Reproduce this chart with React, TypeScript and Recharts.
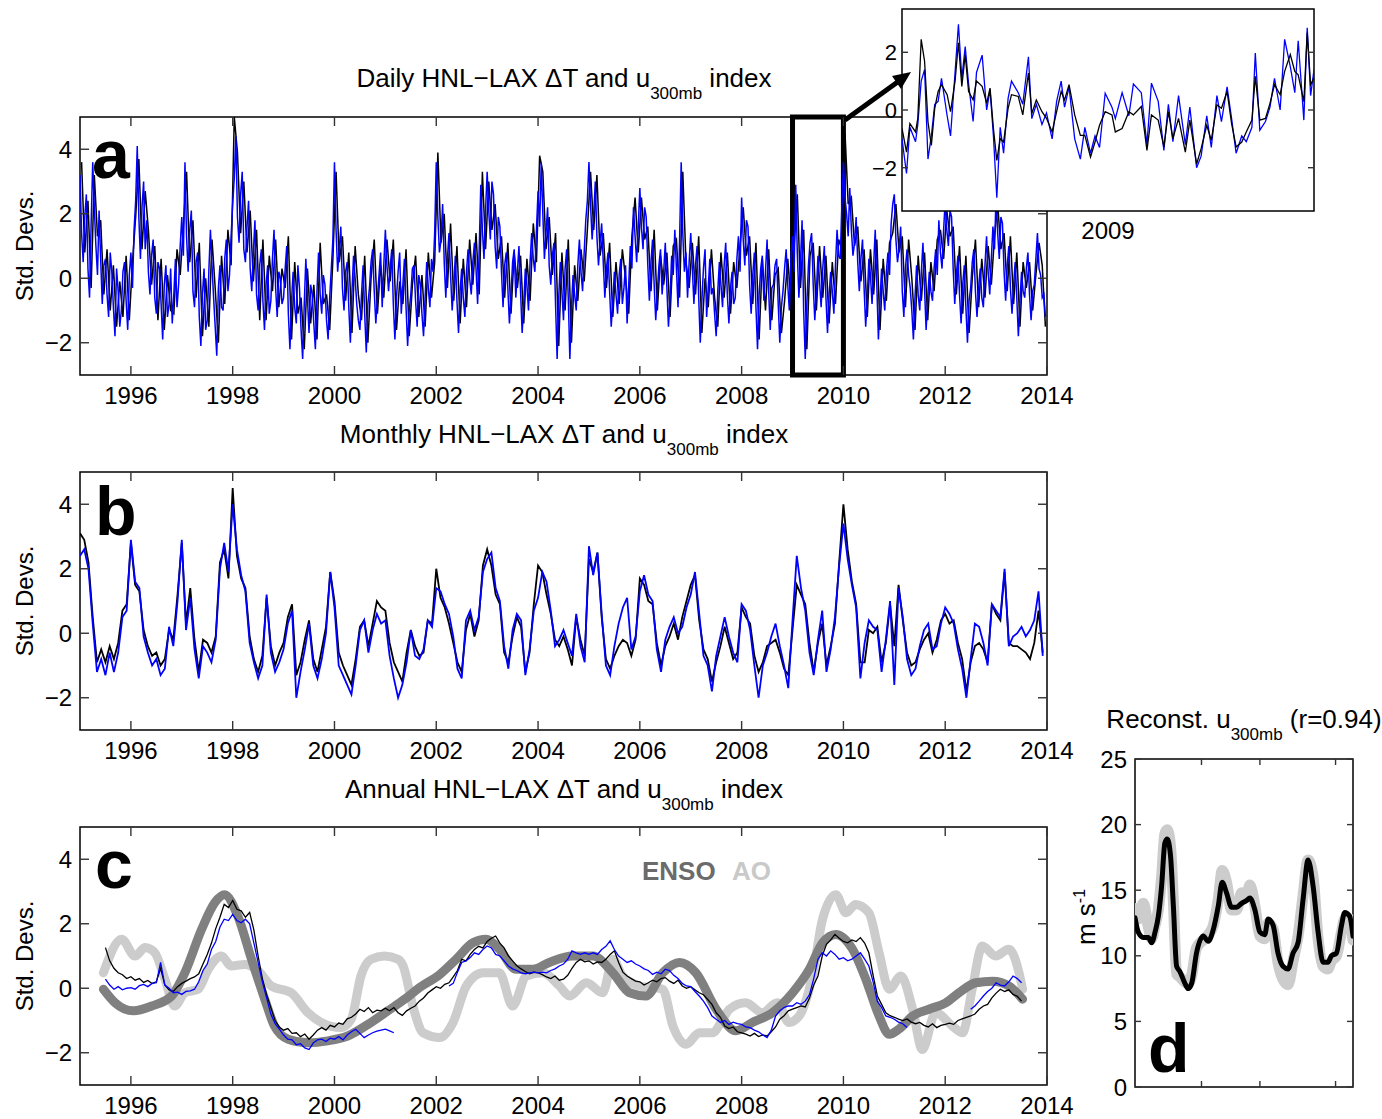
import { LineChart, Line, XAxis, YAxis, ReferenceArea } from 'recharts'

const FONT = "'Liberation Sans', Arial, Helvetica, sans-serif"

// panel a: daily index. blue: 32 samples per year from 1995.0, black: 16 per year
const dailyBlue = [
  3.2, 1.4, 0.5, 1.9, 2.6, 0.3, -0.6, 1.7, 3.6, 2.2, 1.0, 0.1, 2.1, 0.6, -0.8, 0.4, 0.6, -0.5, -1.2, 0.8, 0.2, -0.9, -1.8, 0.3, -0.4, -1.5, -1.0, 0.2, 0.5, -0.7, -1.6, 0.1,
  0.8, -0.3, 1.5, 2.4, 4.1, 1.9, 0.6, 2.2, 3.0, 0.9, 1.8, 0.2, -0.5, 0.7, 1.2, -0.6, -1.1, 0.5, 0.3, -0.8, -1.9, -0.2, 0.4, -1.2, -0.8, 0.3, -1.4, -0.5, 0.6, -0.9, -0.2, 1.0,
  1.9, 0.7, 3.6, 1.3, 0.2, 1.5, 2.1, -0.4, -0.9, 0.5, 0.8, -1.2, -2.1, -0.5, 0.3, -1.6, -1.3, 0.2, 1.5, 0.4, -0.6, -1.5, -2.4, -0.3, 0.4, -0.9, -1.0, 0.6, 1.2, -0.4, 0.1, 1.3,
  2.3, 3.1, 4.4, 1.9, 1.1, 2.6, 3.3, 0.9, 0.5, 1.6, 2.4, 0.3, -0.4, 0.8, 1.8, -0.5, -1.0, 0.4, 0.9, -0.7, -1.6, -0.2, 0.4, -1.1, -0.7, 0.6, 1.5, -0.3, -1.2, 0.2, 0.0, -0.8,
  -0.6, 0.3, 1.0, -1.1, -2.2, -0.7, 0.2, -0.9, -1.4, 0.4, -0.3, -1.6, -2.5, -0.8, 0.6, -0.6, -1.7, -0.2, -0.5, -1.4, -2.2, -0.4, 0.8, -0.5, -1.1, 0.1, -0.2, -1.3, -1.9, -0.6, 0.3, 1.2,
  3.6, 1.5, 0.2, 0.9, 1.6, -0.3, -1.0, 0.2, 0.5, -0.9, -2.0, -0.4, 0.7, 0.0, -0.8, -1.3, -1.6, -0.5, 0.4, -1.1, -2.3, -0.8, -0.3, 0.5, 0.9, -0.4, -1.4, -0.6, 0.1, 0.8, -0.9, 0.4,
  1.5, 0.4, -0.4, 0.3, 0.9, -0.8, -1.9, -0.6, 0.2, 0.8, -1.1, -0.2, 0.6, -0.9, -2.1, -1.0, -0.5, 0.3, 0.4, -0.7, -1.5, 0.1, -0.2, -1.1, -1.8, -0.6, 0.5, -0.3, -0.9, 0.6, 0.2, 1.4,
  3.6, 1.9, 0.8, 1.2, 2.3, 0.5, -0.6, 0.6, 1.4, 0.1, -1.0, -0.2, 0.7, -0.7, -1.7, -0.4, 0.3, -0.6, -1.2, 0.2, 0.9, 0.0, -0.5, 0.5, 1.1, 0.3, -0.8, 0.9, 2.9, 1.5, 0.6, 2.1,
  3.3, 2.1, 1.2, 3.0, 2.6, 1.0, 0.3, 1.9, 1.6, 0.2, -0.9, 0.4, 0.8, -0.3, -1.4, -0.5, 0.5, 0.9, -0.6, 0.2, 1.0, -0.4, -1.7, -0.8, 0.3, -0.2, -1.0, 0.5, 1.4, 0.6, 0.2, 1.5,
  2.7, 1.6, 3.6, 2.0, 0.6, 1.4, 2.2, 0.4, -0.2, 0.7, 1.1, -0.8, -2.5, -0.6, 0.5, -0.4, -1.3, 0.3, 0.9, -0.6, -2.5, -0.9, 0.1, -0.5, -1.0, 0.4, 1.2, 0.2, -0.4, 0.8, 1.8, 2.4,
  3.6, 2.3, 1.2, 2.0, 3.0, 1.3, 0.4, 1.1, 1.7, 0.5, -0.6, 0.3, 0.8, -0.4, -1.5, -0.7, 0.2, -0.5, -1.1, 0.1, 0.6, -0.8, -0.3, 0.4, -1.4, -0.2, 1.0, 0.3, 2.2, 1.3, 0.5, 1.6,
  2.8, 1.6, 0.9, 2.2, 1.9, 0.4, -0.7, 0.5, 1.2, -0.2, -1.3, -0.4, 0.4, 0.9, -0.5, 0.2, 1.1, -0.3, -1.5, -0.6, 0.7, 0.1, 1.5, 0.3, -0.9, 1.2, 3.6, 1.4, 0.2, 0.8, -0.6, 0.5,
  1.4, 0.3, -0.8, 0.4, 1.0, -0.6, -2.0, -0.7, 0.3, 0.9, -1.2, -0.3, 0.6, -0.5, -0.3, -1.1, -1.8, -0.4, 0.5, -0.2, -0.9, 0.4, 1.1, -0.5, -1.4, -0.3, 0.2, -0.8, -0.6, 0.6, 1.3, 0.2,
  2.5, 1.2, 0.4, 1.8, 1.6, -0.2, -1.1, 0.1, 0.8, -0.9, -2.2, -0.5, 0.3, 0.7, -0.7, 0.2, 1.2, -0.4, -1.6, -0.3, -0.2, 0.4, 0.6, -0.8, -2.0, -0.9, -0.4, 0.3, 0.9, -0.2, -1.0, 0.6,
  1.3, 0.2, 2.9, 0.8, -0.6, 0.5, 1.8, -1.0, -2.5, -0.8, 0.4, 1.1, 1.4, -0.2, -1.3, -0.4, 0.7, -0.1, -0.9, 0.3, 1.0, -0.6, -1.7, -0.5, 0.2, -0.4, -1.1, 0.4, 1.5, 0.7, 0.6, 2.2,
  3.6, 2.5, 2.0, 1.3, 2.8, 1.5, 0.7, 1.1, 1.9, 0.5, -0.4, 0.6, 1.2, -0.3, -1.5, -0.6, 0.6, 0.1, -0.8, 0.4, 1.5, -0.2, -1.9, -0.7, 0.3, -0.4, -1.0, 0.2, 0.8, 0.1, 1.7, 2.3,
  2.6, 1.2, 0.5, 0.9, 1.6, -0.4, -1.2, 0.3, 0.9, 0.1, -0.3, -1.0, -1.9, -0.6, 0.4, -0.5, -1.0, 0.2, 1.1, -0.3, -1.6, -0.6, 0.2, -0.4, -0.7, 0.3, 0.9, 0.1, 1.8, 0.8, 0.3, 1.5,
  2.4, 1.5, 1.0, 2.1, 1.9, 0.3, -0.8, 0.1, 0.7, -0.5, -1.4, -0.2, 0.4, -0.9, -2.0, -0.7, -0.3, 0.5, 0.9, -0.4, -1.2, -0.3, 0.3, -0.6, -0.9, 0.4, 1.3, 0.2, -0.5, 0.6, 1.6, 0.9,
  2.6, 1.4, 0.6, 1.9, 1.7, 0.2, -0.7, 0.4, 1.0, -0.3, -1.1, -0.2, 0.5, -0.6, -1.8, -0.7, 0.2, -0.4, -0.6, 0.3, 0.8, -0.5, -1.3, -0.4, -0.2, 0.6, 1.4, 0.3, 0.1, -0.6, -0.5, -1.2,
]
const dailyBlack = [
  3.6, 0.8, 2.4, -0.3, 3.2, 1.3, 1.8, -0.5, 0.9, -1.0, 0.4, -1.5, -0.1, -1.2, 0.7, -1.3,
  0.5, 1.9, 3.7, 0.9, 2.7, 1.5, -0.2, 1.0, -1.3, 0.6, -1.6, 0.1, -1.0, -1.1, 0.9, 0.1,
  1.6, 3.3, 0.5, 1.8, -0.6, 1.1, -1.8, 0.0, -1.5, 1.2, -0.3, -2.0, 0.7, -0.8, 1.5, 0.4,
  5.0, 3.9, 1.4, 3.0, 0.8, 2.1, -0.1, 1.5, -1.3, 1.2, -1.3, 0.7, -0.4, 1.2, -0.9, 0.3,
  -0.3, 1.3, -1.9, 0.5, -1.1, -0.6, -2.2, 0.3, -1.4, -0.2, -1.9, 1.1, -0.8, -0.5, -1.6, 0.6,
  3.3, 0.5, 1.3, -0.7, 0.8, -1.7, 1.0, -0.5, -1.3, 0.7, -2.0, 0.0, 1.2, -1.1, 0.4, -0.6,
  1.2, -0.1, 1.2, -1.6, -0.1, -0.8, 0.9, -1.8, -0.2, 0.7, -1.2, 0.1, -1.5, 0.8, -0.6, 0.5,
  3.9, 1.1, 2.0, -0.3, 1.7, -0.7, 1.0, -1.4, 0.6, -0.9, 1.2, -0.2, 1.4, -0.5, 3.3, 0.9,
  3.0, 1.5, 2.3, 0.6, 1.3, -0.6, 1.1, -1.1, 0.8, -0.3, 0.7, -1.4, 0.6, -0.7, 1.7, 0.5,
  3.8, 3.3, 0.9, 1.9, 0.1, 1.4, -2.1, 0.8, -1.0, 1.2, -2.0, 0.4, -0.7, 0.9, -0.1, 1.5,
  3.3, 1.5, 3.2, 0.7, 1.4, -0.3, 1.1, -1.2, 0.5, -0.8, 0.9, 0.0, -1.1, 1.3, 2.5, 0.8,
  2.5, 1.2, 1.6, -0.4, 1.5, -1.0, 0.7, -0.2, 0.8, -1.2, 1.0, 1.2, -0.6, 3.3, 0.5, -0.3,
  1.1, -0.5, 1.3, -1.7, 0.0, -0.9, 0.9, -0.6, -1.5, 0.8, -0.6, 0.8, -1.1, 0.5, -0.3, 1.0,
  2.2, 0.7, 1.3, -0.8, 1.1, -1.9, 0.6, -1.0, 0.9, -1.3, 0.1, 0.3, -1.7, -0.7, 0.6, -0.7,
  1.0, 2.6, -0.3, 1.5, -2.2, 0.7, 1.1, -1.0, 1.0, -0.6, 0.7, -1.4, 0.5, -0.8, 1.2, 0.9,
  4.5, 2.3, 2.5, 1.0, 1.6, -0.1, 0.9, -1.2, 0.9, -0.5, 1.2, -1.6, 0.6, -0.7, 1.1, 1.4,
  2.3, 0.8, 1.3, -0.9, 1.2, 0.0, -1.6, 0.7, -0.7, 0.8, -1.3, 0.5, -0.4, 1.2, 1.5, 0.6,
  2.1, 1.3, 1.6, -0.5, 1.0, -1.1, 0.7, -1.7, 0.0, 1.2, -0.9, 0.6, -0.6, 1.0, -0.2, 1.3,
  2.3, 0.9, 1.4, -0.4, 1.3, -0.8, 0.8, -1.5, 0.5, -0.3, 0.5, -1.0, 0.1, 1.1, 0.4, -1.5,
]

// panel b: monthly index, Jan 1995 – Dec 2013
const monthlyBlack = [
  3.1, 2.9, 2.2, 0.5, -0.9, -0.5, -0.9, -0.4, -0.8, -0.3, 0.7, 0.9,
  2.8, 1.5, 1.3, 0.1, -0.4, -0.7, -0.6, -1.0, -0.8, 0.1, -0.2, 1.2,
  2.8, 0.3, 1.4, -0.2, -1.2, -0.2, -0.3, -0.6, -0.1, 2.2, 2.6, 1.7,
  4.5, 2.4, 1.7, 1.4, -0.1, -0.8, -1.2, -0.7, 1.1, -0.4, -1.0, -0.6,
  -0.3, 0.5, 0.9, -1.3, -0.9, -0.2, 0.4, -0.8, -1.2, -0.5, 0.2, 1.9,
  1.0, -0.6, -1.0, -1.3, -1.6, -0.8, 0.2, 0.4, -0.4, 0.3, 1.0, 0.8,
  0.7, -0.3, -0.9, -1.2, -1.5, -0.6, 0.1, -0.4, -0.7, -0.6, 0.4, 0.3,
  2.0, 1.1, 0.8, 0.3, -0.3, -0.9, -1.2, 0.1, 0.6, -0.1, 0.4, 2.1,
  2.6, 2.1, 1.2, 0.9, -0.6, -0.9, -0.1, 0.5, 0.2, -1.2, -0.6, 0.9,
  2.1, 1.9, 1.2, 0.6, -0.2, -0.4, -0.1, -0.5, -1.0, 0.5, -0.2, -0.7,
  2.3, 1.9, 2.5, 0.5, -0.8, -1.1, -0.7, -0.4, -0.2, -0.3, -0.7, -0.2,
  1.7, 1.5, 1.0, 0.9, -0.3, -1.0, -0.4, -0.1, 0.3, -0.2, 0.5, 1.0,
  1.5, 1.8, 0.4, -0.5, -0.8, -1.5, -0.9, -0.4, 0.2, -0.3, -0.8, -0.6,
  0.8, 0.5, 0.3, -0.7, -1.2, -0.9, -0.4, -0.3, -0.2, -0.6, -1.1, -1.3,
  0.1, 1.5, 1.2, 0.9, -0.3, -1.2, -0.3, 0.3, -1.0, -0.4, 0.3, 2.2,
  4.0, 2.6, 1.6, 0.9, -0.9, -0.9, 0.1, 0.0, 0.2, -0.9, -0.3, 0.9,
  -0.4, 1.5, 0.4, -0.6, -1.0, -0.9, -0.5, -0.2, 0.0, -0.6, -0.2, 0.4,
  0.6, 0.3, 0.4, -0.3, -0.8, -1.8, -0.9, -0.4, -0.3, -0.5, -0.9, 0.9,
  0.6, 0.4, 1.9, -0.3, -0.4, -0.4, -0.5, -0.6, -0.8, -0.3, 0.7, -0.6,
]
const monthlyBlue = [
  2.4, 2.6, 2.0, 0.3, -1.2, -0.8, -1.3, -0.6, -1.2, -0.6, 0.5, 0.7,
  2.9, 1.6, 1.4, -0.1, -0.6, -1.0, -0.8, -1.3, -1.1, 0.2, -0.4, 1.0,
  2.9, 0.1, 1.1, -0.5, -1.4, -0.4, -0.6, -0.9, -0.2, 2.0, 2.8, 1.9,
  4.0, 2.6, 1.8, 1.3, -0.3, -0.9, -1.4, -1.0, 1.2, -0.6, -1.2, -0.9,
  -0.5, 0.3, 0.7, -2.0, -1.2, -0.5, 0.3, -1.0, -1.4, -0.8, 0.0, 1.9,
  0.8, -1.0, -1.3, -1.6, -1.9, -1.0, 0.1, 0.4, -0.6, 0.1, 0.6, 0.3,
  0.4, -0.7, -1.4, -2.0, -1.6, -0.9, 0.1, -0.7, -0.8, -0.5, 0.4, 0.2,
  1.4, 1.3, 0.9, 0.6, -0.1, -1.1, -1.4, 0.4, 0.7, 0.1, 0.5, 1.9,
  2.3, 2.5, 1.4, 1.0, -0.4, -1.1, 0.1, 0.6, 0.4, -1.3, -0.5, 0.7,
  1.1, 1.9, 1.6, 0.7, -0.4, -0.2, 0.1, -0.3, -0.7, 0.6, -0.4, -0.9,
  2.7, 1.8, 2.5, 0.6, -1.0, -1.3, -0.4, 0.3, 0.8, 1.1, -0.5, -0.1,
  1.3, 1.8, 1.2, 1.0, -0.5, -1.2, -0.2, 0.2, 0.5, 0.0, 0.2, 0.8,
  1.2, 1.9, 0.6, -0.7, -1.0, -1.8, -0.7, -0.1, 0.5, -0.1, -0.6, -0.9,
  0.9, 0.7, 0.1, -1.0, -2.0, -1.0, -0.6, -0.1, 0.3, -0.4, -1.0, -1.7,
  0.4, 2.4, 1.4, 0.7, -0.6, -1.3, -0.2, 0.7, -1.2, -0.5, 0.5, 2.1,
  3.4, 2.3, 1.5, 0.8, -1.4, -0.3, 0.4, 0.2, 0.1, -1.2, -0.2, 1.0,
  -1.6, 1.4, 0.5, -0.8, -1.3, -1.1, -0.4, 0.1, 0.3, -0.5, -0.4, 0.3,
  0.8, 0.6, 0.3, -0.5, -1.1, -2.0, -0.8, 0.3, 0.2, -0.3, -1.0, 0.9,
  0.7, 0.5, 2.0, -0.4, -0.1, 0.0, 0.2, -0.1, 0.1, 0.4, 1.3, -0.7,
]

// panel c: annual running means, monthly steps from mid-1995 to mid-2013
const annualBlack = [
  1.26, 0.85, 0.62, 0.48, 0.42, 0.3,
  0.36, 0.25, 0.3, 0.18, 0.24, 0.15, 0.2, 0.62, 0.1, -0.05, -0.1, 0.05,
  0.15, 0.22, 0.3, 0.35, 0.45, 0.75, 1.05, 1.4, 1.85, 2.2, 2.6, 2.5,
  2.72, 2.45, 2.4, 2.2, 2.35, 1.8, 1.0, 0.3, -0.2, -0.6, -1.0, -1.2,
  -1.3, -1.25, -1.4, -1.38, -1.5, -1.42, -1.58, -1.45, -1.3, -1.22, -1.3, -1.15,
  -1.2, -1.08, -1.12, -0.95, -0.9, -0.8, -0.65, -0.72, -0.6, -0.76, -0.68, -0.7,
  -0.62, -0.7, -0.6, -0.76, -0.84, -0.7, -0.62, -0.55, -0.4, -0.3, -0.15, -0.05,
  0.05, 0.0, 0.12, 0.17, 0.35, 0.55, 0.9, 0.85, 1.05, 1.2, 1.3, 1.25,
  1.45, 1.55, 1.62, 1.4, 1.25, 1.0, 0.85, 0.7, 0.6, 0.52, 0.45, 0.5,
  0.48, 0.42, 0.35, 0.3, 0.38, 0.25, 0.28, 0.4, 0.62, 0.8, 0.9, 0.82,
  0.85, 0.75, 0.82, 0.8, 0.9, 1.05, 1.16, 0.8, 0.5, 0.38, 0.3, 0.22,
  0.2, 0.1, 0.17, 0.25, 0.2, 0.3, 0.33, 0.22, 0.15, 0.25, 0.07, 0.0,
  0.05, -0.05, -0.14, -0.2, -0.35, -0.5, -0.76, -0.9, -1.17, -1.25, -1.2, -1.35,
  -1.38, -1.42, -1.48, -1.4, -1.5, -1.45, -1.48, -1.35, -1.2, -0.96, -0.85, -0.7,
  -0.65, -0.6, -0.55, -0.58, -0.3, 0.1, 0.38, 1.0, 1.36, 1.5, 1.67, 1.55,
  1.45, 1.41, 1.5, 1.45, 1.57, 1.4, 1.1, 0.4, -0.24, -0.5, -0.76, -0.85,
  -0.9, -0.96, -1.0, -0.95, -1.05, -1.1, -1.06, -1.15, -1.2, -1.1, -1.22, -1.15,
  -1.12, -1.08, -1.12, -1.0, -0.95, -0.9, -0.86, -0.8, -0.65, -0.55, -0.5, -0.3,
  -0.15, -0.03, -0.1, -0.05, -0.19, -0.25, -0.4,
]
const annualBlue = [
  0.28, 0.1, -0.03, 0.05, -0.05, 0.0,
  0.02, -0.03, 0.08, 0.12, 0.05, 0.15, 0.17, 0.8, 0.1, 0.0, -0.14, -0.12,
  -0.19, -0.1, -0.08, -0.03, 0.2, 0.55, 0.75, 1.2, 1.45, 1.9, 2.14, 2.1,
  2.29, 2.1, 2.03, 2.14, 2.0, 1.4, 0.8, 0.2, -0.3, -0.8, -1.1, -1.27,
  -1.45, -1.58, -1.6, -1.75, -1.72, -1.85, -1.9, -1.7, -1.6, -1.58, -1.65, -1.55,
  -1.58, -1.5, -1.6, -1.45, -1.35, -1.27, -1.4, -1.53, -1.45, -1.38, -1.33, -1.3,
  -1.27, -1.32, -1.38, null, null, null, null, null, null, null, null, null,
  null, null, null, 0.07, 0.15, 0.5, 0.8, 0.85, 0.95, 1.1, 1.05, 1.2,
  1.31, 1.25, 1.05, 1.0, 0.85, 0.69, 0.6, 0.55, 0.48, 0.45, 0.48, 0.5,
  0.48, 0.5, 0.48, 0.55, 0.6, 0.69, 0.75, 0.9, 1.16, 1.1, 1.05, 1.1,
  1.05, 1.1, 1.05, 1.2, 1.3, 1.47, 1.2, 1.0, 0.9, 0.8, 0.85, 0.75,
  0.69, 0.6, 0.55, 0.43, 0.5, 0.45, 0.59, 0.55, 0.4, 0.3, 0.15, 0.07,
  0.05, -0.1, -0.24, -0.4, -0.6, -0.86, -0.96, -1.06, -1.0, -1.12, -1.05, -1.1,
  -1.12, -1.2, -1.22, -1.3, -1.35, -1.45, -1.53, -1.3, -0.86, -0.7, -0.6, -0.55,
  -0.55, -0.45, -0.5, -0.4, -0.2, 0.3, 0.9, 1.1, 1.0, 1.16, 1.05, 0.9,
  0.95, 0.85, 0.9, 1.0, 1.1, 0.9, 0.69, 0.2, -0.4, -0.6, -0.86, -0.9,
  -0.96, -1.05, -1.1, -1.22, null, null, null, null, null, null, null, null,
  null, null, null, null, null, null, -0.65, -0.55, -0.4, -0.24, -0.1, 0.0,
  0.17, 0.1, 0.07, 0.2, 0.38, 0.3, 0.17,
]
const ensoYears = [
  1995.46, 1995.69, 1996.05, 1996.41, 1996.8, 1997.06, 1997.39, 1997.65, 1997.84, 1998.1,
  1998.37, 1998.63, 1998.82, 1999.09, 1999.48, 1999.87, 2000.26, 2000.66, 2001.05, 2001.38,
  2001.67, 2002.07, 2002.39, 2002.72, 2002.98, 2003.24, 2003.57, 2003.9, 2004.22, 2004.68,
  2005.08, 2005.47, 2005.8, 2006.12, 2006.45, 2006.78, 2007.1, 2007.5, 2007.89, 2008.21,
  2008.6, 2009.0, 2009.33, 2009.59, 2009.85, 2010.18, 2010.44, 2010.7, 2010.9, 2011.09,
  2011.36, 2011.68, 2012.01, 2012.27, 2012.6, 2012.93, 2013.25, 2013.52,
]
const ensoIndex = [
  -0.03, -0.45, -0.7, -0.55, -0.24, 0.48, 1.83, 2.66, 2.9, 2.24,
  0.9, -0.34, -1.17, -1.58, -1.69, -1.63, -1.48, -1.12, -0.7, -0.34,
  0.02, 0.43, 0.9, 1.41, 1.52, 1.21, 0.59, 0.59, 0.8, 1.0,
  1.0, 0.48, -0.14, -0.24, 0.48, 0.8, 0.48, -0.65, -1.32, -1.06,
  -0.76, -0.14, 0.59, 1.41, 1.67, 1.21, 0.28, -0.86, -1.43, -1.27,
  -0.86, -0.65, -0.45, -0.14, 0.17, 0.22, 0.07, -0.34,
]
const aoYears = [
  1995.46, 1995.82, 1996.08, 1996.28, 1996.47, 1996.67, 1996.86, 1997.06, 1997.32, 1997.52,
  1997.78, 1997.97, 1998.24, 1998.5, 1998.76, 1999.15, 1999.48, 1999.74, 2000.13, 2000.33,
  2000.52, 2000.72, 2000.98, 2001.25, 2001.35, 2001.54, 2001.74, 2002.07, 2002.33, 2002.59,
  2002.92, 2003.24, 2003.5, 2003.77, 2004.09, 2004.42, 2004.62, 2004.95, 2005.27, 2005.47,
  2005.66, 2005.99, 2006.45, 2006.65, 2006.91, 2007.17, 2007.43, 2007.63, 2007.76, 2008.08,
  2008.41, 2008.7, 2008.93, 2009.13, 2009.39, 2009.59, 2009.85, 2010.05, 2010.24, 2010.5,
  2010.7, 2010.9, 2011.13, 2011.36, 2011.55, 2011.81, 2012.14, 2012.34, 2012.53, 2012.73,
  2012.99, 2013.25, 2013.45, 2013.52,
]
const aoIndex = [
  0.48, 1.52, 1.0, 1.26, 1.1, 0.28, -0.55, -0.14, -0.03, 0.59,
  1.0, 0.69, 0.74, 0.54, 0.07, -0.14, -0.76, -1.06, -1.22, -0.96,
  0.38, 0.9, 1.0, 0.9, 0.69, -0.55, -1.38, -1.53, -1.06, 0.07,
  0.48, 0.48, -0.55, 0.38, 0.48, 0.07, -0.24, 0.17, -0.14, 0.9,
  0.38, 0.07, -0.03, -1.17, -1.74, -1.38, -1.38, -0.96, -0.65, -0.45,
  -0.76, -0.45, -1.06, -0.86, 0.38, 2.14, 2.9, 2.34, 2.6, 2.34,
  1.1, -0.03, 0.38, -0.65, -1.9, -0.76, -1.17, -1.38, -0.03, 1.31,
  1.0, 1.21, 0.48, -0.03,
]

// panel d: reconstructed u300mb (m/s), position along the record in percent
const reconPos = [
  0, 1.5, 3.8, 6.1, 7.6, 9.2, 10.7, 12.2, 13.7, 14.8, 16.3, 17.6, 19.1, 20.6, 22.9, 24.4, 26.0,
  28.2, 31.3, 33.6, 35.9, 38.2, 40.0, 42.0, 44.3, 46.6, 48.9, 51.1, 52.7, 55.0, 57.3, 59.5, 61.1,
  63.4, 65.6, 67.9, 70.2, 72.5, 74.8, 77.1, 79.4, 81.7, 84.0, 86.3, 88.5, 90.1, 92.4, 94.7, 96.2,
  98.5, 100,
]
const reconObserved = [
  13.6, 12.8, 14.0, 12.2, 11.3, 12.3, 13.5, 16.0, 19.3, 19.6, 18.3, 14.2, 8.6, 8.4, 8.0, 7.9, 8.5,
  10.6, 11.2, 11.6, 12.3, 14.3, 16.5, 15.6, 13.5, 13.5, 14.8, 14.5, 15.4, 13.8, 11.5, 11.3, 12.5,
  12.0, 9.5, 8.2, 7.8, 9.6, 11.5, 14.6, 17.3, 16.0, 11.3, 9.2, 9.0, 9.6, 10.0, 11.8, 12.8,
  12.8, 11.2,
]
const reconModel = [
  12.9, 11.8, 11.4, 11.4, 11.0, 11.8, 13.0, 15.3, 18.6, 18.9, 17.6, 13.8, 9.2, 8.8, 7.9, 7.5, 7.9,
  10.2, 11.5, 11.1, 12.0, 13.8, 15.6, 14.8, 13.7, 13.7, 14.0, 14.2, 14.4, 13.5, 11.8, 11.6, 12.8,
  12.3, 10.2, 9.2, 9.0, 10.2, 11.0, 14.3, 17.3, 15.3, 11.8, 9.5, 9.5, 10.0, 10.2, 12.3, 13.3,
  13.0, 11.5,
]

// inset: daily values during 2009 (day of year)
const insetDay = [
  0, 4, 7, 12, 14, 17, 20, 23, 26, 29, 32, 35, 40, 43, 47, 50, 53, 56, 59, 63,
  66, 71, 75, 78, 81, 84, 87, 90, 94, 97, 103, 107, 112, 115, 119, 124, 128, 133, 137, 141,
  144, 148, 153, 158, 162, 167, 171, 175, 180, 186, 189, 195, 201, 205, 212, 217, 221, 227, 232, 236,
  240, 245, 251, 255, 261, 265, 270, 274, 279, 283, 288, 292, 296, 301, 305, 310, 313, 317, 322, 326,
  330, 335, 339, 344, 348, 351, 356, 359, 362, 365,
]
const insetBlack = [
  -0.64, -1.46, -0.47, -0.76, -0.29, 2.45, 1.69, -0.41, -1.23, 0.06, 0.64, 0.88, 0.53, -0.06, 1.0, 2.33, 0.82, 1.92, 0.64, 0.35,
  1.0, 0.82, 0.23, 0.76, -0.64, -1.75, -0.99, -1.11, 0.06, 0.53, 0.47, -0.17, 1.28, -0.12, 0.35, -0.06, -0.29, -0.76, -0.06, 0.64,
  0.35, 0.88, -0.17, -0.88, -0.88, -1.63, -1.11, -0.53, -0.06, -0.17, -0.76, -0.64, -0.06, -0.17, 0.12, -1.4, -0.17, -0.35, -1.28, -0.06,
  -0.99, -0.29, -1.46, -0.35, -1.87, -1.34, -0.53, -1.05, 0.18, 0.06, 0.64, -0.47, -1.28, -1.11, -0.76, -0.35, 1.17, -0.35, -0.29, 0.23,
  0.88, 0.53, 1.34, 1.92, 1.34, 1.22, 0.29, 2.68, 0.88, 1.11,
]
const insetBlue = [
  -1.0, -2.2, -0.6, -1.1, -0.5, 1.0, 1.4, -1.7, -0.9, 0.2, 0.3, 1.1, -0.2, -0.9, 1.3, 2.97, 1.1, 2.2, 0.9, -0.4,
  1.3, 1.9, 0.0, 0.7, -0.9, -3.04, -0.6, -1.5, 0.4, 1.0, 0.6, 0.2, 1.84, -0.3, 0.2, -0.5, -0.1, -1.0, 0.3, 1.0,
  0.1, 0.8, -1.0, -1.7, -0.6, -1.5, -0.9, -1.3, 0.58, 0.1, -0.3, 0.6, -0.2, 0.9, 0.6, -1.2, 0.93, 0.3, -1.4, 0.2,
  -1.1, 0.5, -1.2, 0.1, -2.0, -1.6, -0.2, -1.3, 0.5, -0.4, 0.8, -0.3, -1.5, -0.9, -1.1, -0.6, 1.97, -0.7, -0.4, 0.1,
  1.1, 0.0, 2.45, 1.5, 0.6, 2.4, -0.35, 2.85, 0.5, 1.4,
]

const yearTicks = [1996, 1998, 2000, 2002, 2004, 2006, 2008, 2010, 2012, 2014]
const stdTicks = [-2, 0, 2, 4]
const windTicks = [0, 5, 10, 15, 20, 25]
const reconTicks = [30.5, 57.3, 92]
const insetTicks = [-2, 0, 2]

const dailyRows = dailyBlue.map((v, i) => ({ t: 1995 + i / 32, blue: v }))
const dailyBlackRows = dailyBlack.map((v, i) => ({ t: 1995 + (i + 0.5) / 16, black: v }))
const monthlyRows = monthlyBlue.map((v, i) => ({ t: 1995 + i / 12, blue: v, black: monthlyBlack[i] }))
const annualRows = annualBlack.map((v, i) => ({ t: 1995.5 + i / 12, black: v, blue: annualBlue[i] }))
const ensoRows = ensoYears.map((t, i) => ({ t, v: ensoIndex[i] }))
const aoRows = aoYears.map((t, i) => ({ t, v: aoIndex[i] }))
const reconRows = reconPos.map((t, i) => ({ t, obs: reconObserved[i], model: reconModel[i] }))
const insetRows = insetDay.map((t, i) => ({ t, black: insetBlack[i], blue: insetBlue[i] }))

type Box = { left: number; top: number; width: number; height: number }
const TICK = '#333'

const fmt = (v: number) => (v < 0 ? '\u2212' + Math.abs(v) : String(v))

// ticks point inward on both opposite sides of the box, labels sit outside
function xTick(b: Box, len: number, label: boolean) {
  const bottom = b.top + b.height
  return (p: any) => (
    <g>
      <line x1={p.x} x2={p.x} y1={bottom} y2={bottom - len} stroke={TICK} strokeWidth={1.4} />
      <line x1={p.x} x2={p.x} y1={b.top} y2={b.top + len} stroke={TICK} strokeWidth={1.4} />
      {label && (
        <text x={p.x} y={bottom + 29} textAnchor="middle" fontSize={24} fontFamily={FONT} fill="#000">
          {p.payload.value}
        </text>
      )}
    </g>
  )
}

function yTick(b: Box, len: number, fs: number, gap: number) {
  const right = b.left + b.width
  return (p: any) => (
    <g>
      <line x1={b.left} x2={b.left + len} y1={p.y} y2={p.y} stroke={TICK} strokeWidth={1.4} />
      <line x1={right} x2={right - len} y1={p.y} y2={p.y} stroke={TICK} strokeWidth={1.4} />
      <text x={b.left - gap} y={p.y + fs * 0.36} textAnchor="end" fontSize={fs} fontFamily={FONT} fill="#000">
        {fmt(p.payload.value)}
      </text>
    </g>
  )
}

function stdAxes(b: Box) {
  return [
    <XAxis key="x" type="number" dataKey="t" domain={[1995, 2014]} ticks={yearTicks} interval={0}
      allowDataOverflow height={1} axisLine={false} tickLine={false} tickSize={0} tickMargin={0}
      tick={xTick(b, 9, true)} />,
    <YAxis key="y" type="number" domain={[-3, 5]} ticks={stdTicks} interval={0} allowDataOverflow
      width={1} axisLine={false} tickLine={false} tickSize={0} tickMargin={0} tick={yTick(b, 9, 24, 8)} />,
    <ReferenceArea key="f" x1={1995} x2={2014} y1={-3} y2={5} fill="none" stroke="#000" strokeWidth={1.5} />,
  ]
}

const boxStd: Box = { left: 80, top: 17, width: 967, height: 258 }
const stdMargin = { top: 17, left: 79, right: 335, bottom: 44 }
const boxD: Box = { left: 75, top: 69, width: 218, height: 328 }
const boxIn: Box = { left: 52, top: 9, width: 412, height: 202 }

const abs = (left: number, top: number): React.CSSProperties => ({ position: 'absolute', left, top })

function Title({ cx, top, pre, post }: { cx: number; top: number; pre: string; post: string }) {
  return (
    <div style={{ ...abs(cx - 300, top), width: 600, textAlign: 'center', fontSize: 26, lineHeight: '26px', whiteSpace: 'nowrap' }}>
      {pre}u<span style={{ fontSize: 17, verticalAlign: -12 }}>300mb</span>{post}
    </div>
  )
}

function VLabel({ cx, cy, size = 24, children }: { cx: number; cy: number; size?: number; children: React.ReactNode }) {
  return (
    <div style={{ ...abs(cx - 100, cy - 14), width: 200, height: 28, lineHeight: '28px', textAlign: 'center', fontSize: size, transform: 'rotate(-90deg)', whiteSpace: 'nowrap' }}>
      {children}
    </div>
  )
}

function Letter({ x, baseline, ch }: { x: number; baseline: number; ch: string }) {
  return (
    <div style={{ ...abs(x, baseline - 57.6), fontSize: 68, lineHeight: '68px', fontWeight: 'bold' }}>{ch}</div>
  )
}

export default function App() {
  return (
    <div style={{ position: 'absolute', left: 0, top: 0, width: 1382, height: 1119, background: '#fff', fontFamily: FONT, color: '#000', overflow: 'hidden' }}>
      <Title cx={564} top={65} pre="Daily HNL−LAX ΔT and " post=" index" />
      <Title cx={564} top={421} pre="Monthly HNL−LAX ΔT and " post=" index" />
      <Title cx={564} top={776} pre="Annual HNL−LAX ΔT and " post=" index" />

      {/* a: daily */}
      <div style={abs(0, 100)}>
        <LineChart width={1382} height={320} data={dailyRows} margin={stdMargin}>
          {stdAxes(boxStd)}
          <Line data={dailyBlackRows} type="linear" dataKey="black" stroke="#000" strokeWidth={1.5} dot={false} isAnimationActive={false} />
          <Line type="linear" dataKey="blue" stroke="#0000ff" strokeWidth={1.5} dot={false} isAnimationActive={false} />
          <ReferenceArea x1={2009} x2={2010} y1={-3} y2={5} fill="none" stroke="#000" strokeWidth={5} />
        </LineChart>
      </div>

      {/* b: monthly */}
      <div style={abs(0, 455)}>
        <LineChart width={1382} height={320} data={monthlyRows} margin={stdMargin}>
          {stdAxes(boxStd)}
          <Line type="linear" dataKey="black" stroke="#000" strokeWidth={1.8} dot={false} isAnimationActive={false} />
          <Line type="linear" dataKey="blue" stroke="#0000ff" strokeWidth={1.8} dot={false} isAnimationActive={false} />
        </LineChart>
      </div>

      {/* c: annual */}
      <div style={abs(0, 810)}>
        <LineChart width={1382} height={309} data={annualRows} margin={{ top: 17, left: 79, right: 335, bottom: 33 }}>
          {stdAxes(boxStd)}
          <Line data={aoRows} type="monotone" dataKey="v" stroke="#cccccc" strokeWidth={9} strokeLinecap="round" strokeLinejoin="round" dot={false} isAnimationActive={false} />
          <Line data={ensoRows} type="monotone" dataKey="v" stroke="#808080" strokeWidth={9} strokeLinecap="round" strokeLinejoin="round" dot={false} isAnimationActive={false} />
          <Line type="linear" dataKey="black" stroke="#000" strokeWidth={1.3} dot={false} isAnimationActive={false} />
          <Line type="linear" dataKey="blue" stroke="#0000ff" strokeWidth={1.3} dot={false} isAnimationActive={false} />
        </LineChart>
      </div>
      <div style={{ ...abs(642, 858), fontSize: 26, lineHeight: '26px', fontWeight: 'bold', color: '#6b6b6b' }}>ENSO</div>
      <div style={{ ...abs(732, 858), fontSize: 26, lineHeight: '26px', fontWeight: 'bold', color: '#c9c9c9' }}>AO</div>

      {/* d: reconstruction */}
      <div style={{ ...abs(1094, 706), width: 300, textAlign: 'center', fontSize: 26, lineHeight: '26px', whiteSpace: 'nowrap' }}>
        Reconst. u<span style={{ fontSize: 17, verticalAlign: -12 }}>300mb</span> (r=0.94)
      </div>
      <div style={abs(1060, 690)}>
        <LineChart width={322} height={429} data={reconRows} margin={{ top: 69, left: 74, right: 29, bottom: 31 }}>
          <XAxis type="number" dataKey="t" domain={[0, 100]} ticks={reconTicks} interval={0} allowDataOverflow
            height={1} axisLine={false} tickLine={false} tickSize={0} tickMargin={0} tick={xTick(boxD, 6, false)} />
          <YAxis type="number" domain={[0, 25]} ticks={windTicks} interval={0} allowDataOverflow width={1}
            axisLine={false} tickLine={false} tickSize={0} tickMargin={0} tick={yTick(boxD, 6, 24, 8)} />
          <ReferenceArea x1={0} x2={100} y1={0} y2={25} fill="none" stroke="#000" strokeWidth={1.5} />
          <Line type="monotone" dataKey="obs" stroke="#cccccc" strokeWidth={11} strokeLinecap="round" strokeLinejoin="round" dot={false} isAnimationActive={false} />
          <Line type="monotone" dataKey="model" stroke="#000" strokeWidth={5} strokeLinecap="round" strokeLinejoin="round" dot={false} isAnimationActive={false} />
        </LineChart>
      </div>
      <VLabel cx={1080} cy={917} size={26}>
        m s<span style={{ fontSize: 16, verticalAlign: 10 }}>-1</span>
      </VLabel>

      {/* inset: 2009 zoom */}
      <div style={{ ...abs(902, 9), width: 412, height: 202, background: '#fff' }} />
      <div style={abs(850, 0)}>
        <LineChart width={480} height={250} data={insetRows} margin={{ top: 9, left: 51, right: 16, bottom: 38 }}>
          <XAxis type="number" dataKey="t" domain={[0, 365]} allowDataOverflow height={1} axisLine={false} tick={false} tickLine={false} />
          <YAxis type="number" domain={[-3.5, 3.5]} ticks={insetTicks} interval={0} allowDataOverflow width={1}
            axisLine={false} tickLine={false} tickSize={0} tickMargin={0} tick={yTick(boxIn, 6, 22, 5)} />
          <ReferenceArea x1={0} x2={365} y1={-3.5} y2={3.5} fill="none" stroke="#000" strokeWidth={1.5} />
          <Line type="linear" dataKey="blue" stroke="#0000ff" strokeWidth={1.3} dot={false} isAnimationActive={false} />
          <Line type="linear" dataKey="black" stroke="#000" strokeWidth={1.3} dot={false} isAnimationActive={false} />
        </LineChart>
      </div>
      <div style={{ ...abs(1008, 219), width: 200, textAlign: 'center', fontSize: 24, lineHeight: '24px' }}>2009</div>

      {/* arrow from the 2009 box to the inset */}
      <svg width={1382} height={250} style={{ position: 'absolute', left: 0, top: 0, pointerEvents: 'none' }}>
        <line x1={845} y1={120} x2={899} y2={81} stroke="#000" strokeWidth={5} />
        <polygon points="911,72 901,89 892,76" fill="#000" />
      </svg>

      <VLabel cx={25} cy={246}>Std. Devs.</VLabel>
      <VLabel cx={25} cy={601}>Std. Devs.</VLabel>
      <VLabel cx={25} cy={956}>Std. Devs.</VLabel>

      <Letter x={92} baseline={178} ch="a" />
      <Letter x={95} baseline={535} ch="b" />
      <Letter x={95} baseline={888} ch="c" />
      <Letter x={1148} baseline={1072} ch="d" />
    </div>
  )
}
